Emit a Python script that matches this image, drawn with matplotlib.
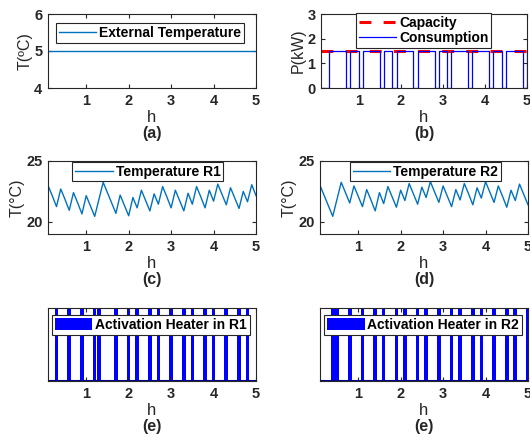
import numpy as np
import matplotlib
matplotlib.use('Agg')
import matplotlib.pyplot as plt

plt.rcParams['font.family'] = ['Liberation Sans', 'DejaVu Sans']
plt.rcParams['font.weight'] = 'bold'
plt.rcParams['font.size'] = 10

# time steps of 6 min over 5 hours
hours = np.round(np.arange(1, 51) * 0.1, 1)

ext_temp = [5.0] * 50

capacity = [1.5] * 50

# heater states (1 = on during [t, t+0.1])
heater_r1 = [0, 0, 1, 0, 0, 1, 0, 0, 1, 0,
             0, 1, 1, 0, 0, 0, 1, 0, 0, 1,
             0, 1, 0, 0, 1, 0, 1, 0, 0, 1,
             0, 0, 1, 0, 1, 0, 0, 1, 0, 1,
             0, 0, 1, 0, 0, 1, 0, 1, 0, 0]
heater_r2 = [0, 0, 0, 1, 1, 0, 0, 1, 0, 0,
             1, 0, 0, 1, 0, 1, 0, 0, 1, 0,
             1, 0, 0, 1, 0, 1, 0, 0, 1, 0,
             0, 1, 0, 1, 0, 0, 1, 0, 1, 0,
             0, 1, 0, 0, 1, 0, 1, 0, 0, 1]

consumption = [0, 0, 1.5, 1.5, 1.5, 1.5, 0, 1.5, 1.5, 0,
               1.5, 1.5, 1.5, 1.5, 0, 1.5, 1.5, 0, 1.5, 1.5,
               1.5, 1.5, 0, 1.5, 1.5, 1.5, 1.5, 0, 1.5, 1.5,
               0, 1.5, 1.5, 1.5, 1.5, 0, 1.5, 1.5, 1.5, 1.5,
               0, 1.5, 1.5, 0, 1.5, 1.5, 1.5, 1.5, 0, 1.5]

temp_r1 = [23.0, 22.15, 21.25, 22.7, 21.85, 20.95, 22.4, 21.55, 20.65, 22.15,
           21.3, 20.45, 21.85, 23.25, 22.4, 21.55, 20.7, 22.2, 21.35, 20.5,
           22.0, 21.15, 22.6, 21.75, 20.9, 22.3, 21.45, 22.9, 22.05, 21.15,
           22.6, 21.75, 20.9, 22.35, 21.45, 22.9, 22.05, 21.15, 22.6, 21.7,
           23.1, 22.25, 21.4, 22.8, 21.95, 21.1, 22.5, 21.65, 23.05, 22.15]

temp_r2 = [23.0, 22.15, 21.3, 20.45, 21.85, 23.25, 22.4, 21.55, 22.95, 22.1,
           21.25, 22.65, 21.8, 20.9, 22.4, 21.5, 22.9, 22.05, 21.2, 22.6,
           21.75, 23.15, 22.3, 21.45, 22.85, 22.0, 23.3, 22.45, 21.6, 22.95,
           22.1, 21.25, 22.65, 21.8, 23.15, 22.3, 21.4, 22.8, 21.95, 23.3,
           22.45, 21.6, 22.95, 22.1, 21.2, 22.6, 21.75, 23.1, 22.25, 21.4]

MBLUE = (0.0, 0.447, 0.741)
AXC = (0.15, 0.15, 0.15)

W, H = 530, 441
fig = plt.figure(figsize=(W / 100, H / 100), dpi=100)


def make_axes(left, top, right, bottom):
    return fig.add_axes([left / W, 1 - bottom / H, (right - left) / W, (bottom - top) / H])


def style(ax, caption, ylabel=None):
    ax.set_xlim(0.1, 5)
    ax.set_xticks([1, 2, 3, 4, 5])
    ax.tick_params(direction='in', length=3, top=True, right=True,
                   colors=AXC, labelcolor=AXC, pad=4, labelsize=10.5)
    for s in ax.spines.values():
        s.set_color(AXC)
        s.set_linewidth(0.8)
    ax.set_xlabel('h', fontsize=12, color=AXC, labelpad=2)
    if ylabel:
        ax.set_ylabel(ylabel, fontsize=11.5, color=AXC, labelpad=1)
    ax.text(0.5, -0.62, caption, transform=ax.transAxes, ha='center',
            va='center', fontsize=11.5, color=AXC)


def legend(ax, cx, cy, **kw):
    leg = ax.legend(loc='center', bbox_to_anchor=(cx, cy), fancybox=False,
                    framealpha=1, borderpad=0.2, handlelength=2.7,
                    handletextpad=0.2, labelspacing=0.05, borderaxespad=0,
                    fontsize=10, **kw)
    leg.get_frame().set_edgecolor(AXC)
    leg.get_frame().set_linewidth(0.8)
    return leg


# (a) external temperature
ax = make_axes(48, 14, 256, 88)
ax.plot(hours, ext_temp, color=MBLUE, lw=1, label='External Temperature')
ax.set_ylim(4, 6)
ax.set_yticks([4, 5, 6])
style(ax, '(a)', 'T(ºC)')
legend(ax, 0.49, 0.743)

# (b) power
ax = make_axes(321, 14, 527, 88)
ax.plot(hours, capacity, color='red', lw=2.2, ls=(0, (3.9, 4.0)), label='Capacity')
ax.step(hours, consumption, where='post', color='blue', lw=0.9, label='Consumption')
ax.set_ylim(0, 3)
ax.set_yticks([0, 1, 2, 3])
style(ax, '(b)', 'P(kW)')
legend(ax, 0.4976, 0.777)

# (c) room 1 temperature
ax = make_axes(48, 161, 256, 234)
ax.plot(hours, temp_r1, color=MBLUE, lw=1, label='Temperature R1')
ax.set_ylim(19, 25)
ax.set_yticks([20, 25])
style(ax, '(c)', 'T(°C)')
legend(ax, 0.48, 0.856)

# (d) room 2 temperature
ax = make_axes(320, 161, 528, 234)
ax.plot(hours, temp_r2, color=MBLUE, lw=1, label='Temperature R2')
ax.set_ylim(19, 25)
ax.set_yticks([20, 25])
style(ax, '(d)', 'T(°C)')
legend(ax, 0.507, 0.856)

# (e) heater activations
for left, right, states, name in [(48, 256, heater_r1, 'R1'), (320, 528, heater_r2, 'R2')]:
    ax = make_axes(left, 308, right, 381)
    ax.bar(hours, states, width=0.085, color='blue', label='Activation Heater in ' + name)
    ax.axhline(0, color=(0, 0, 0.55), lw=1.5)
    ax.set_ylim(0, 1)
    ax.set_yticks([])
    style(ax, '(e)')
    legend(ax, 0.495, 0.77, handleheight=0.9)

fig.savefig('out.png', dpi=100)
